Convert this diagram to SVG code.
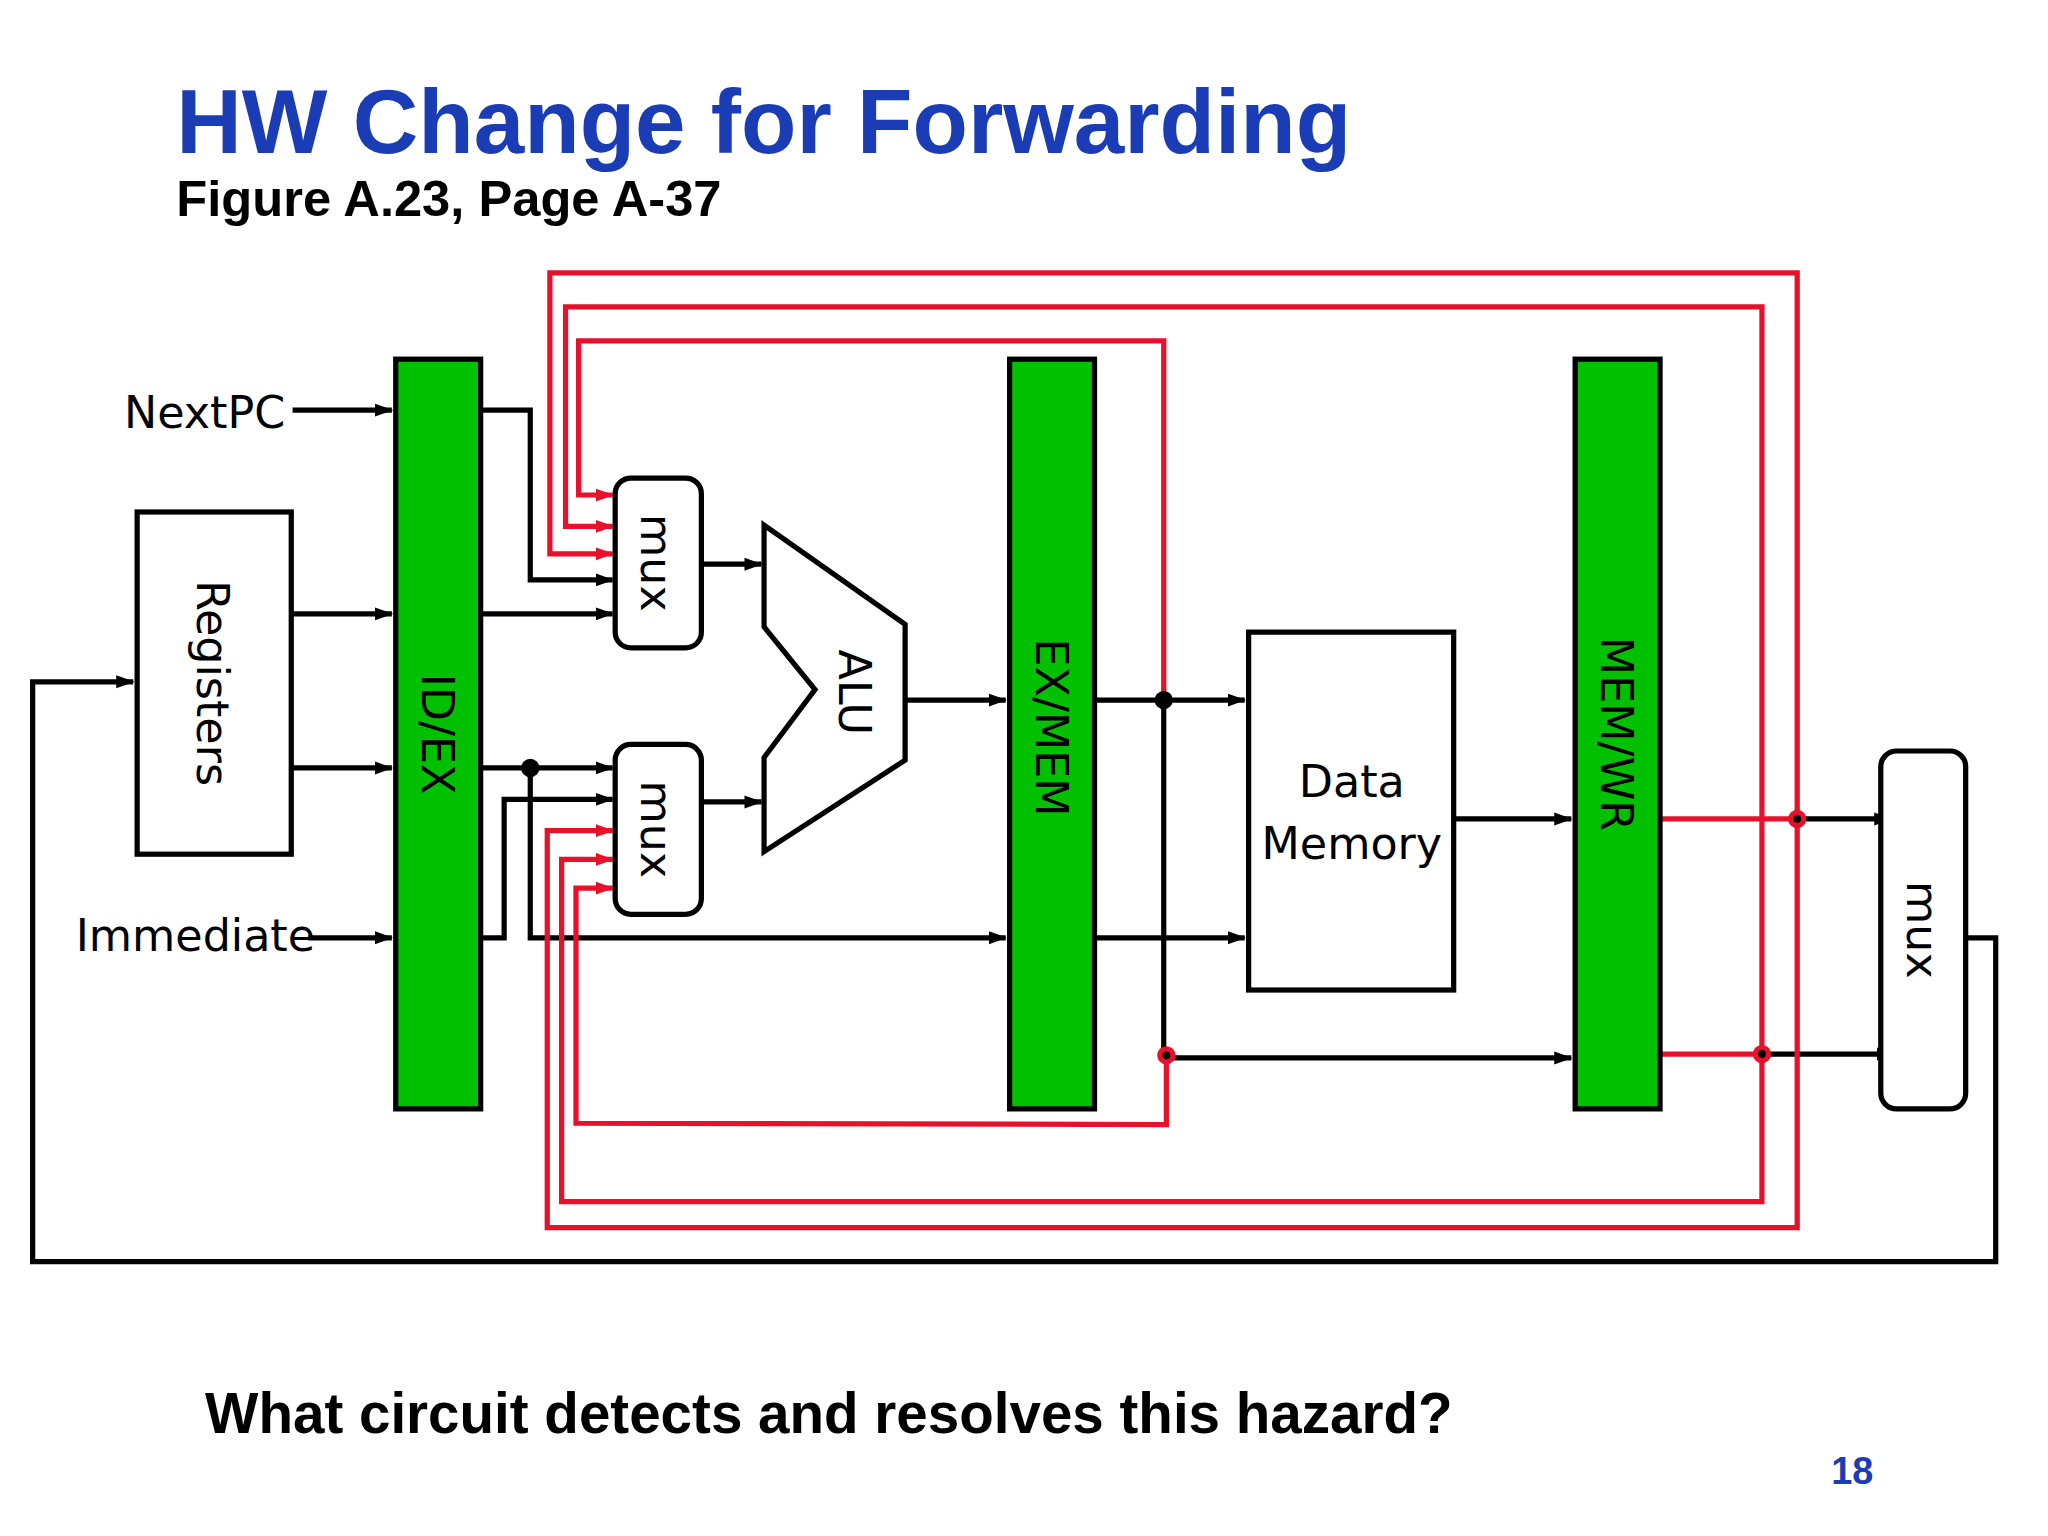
<svg xmlns="http://www.w3.org/2000/svg" width="2048" height="1536" viewBox="0 0 2048 1536">
<defs>
<marker id="ab" markerWidth="14" markerHeight="12" refX="13" refY="6" orient="auto" markerUnits="userSpaceOnUse"><path d="M0,1 L14,6 L0,11 z" fill="#000"/></marker>
<marker id="ar" markerWidth="14" markerHeight="12" refX="13" refY="6" orient="auto" markerUnits="userSpaceOnUse"><path d="M0,1 L14,6 L0,11 z" fill="#e8102a"/></marker>
<style>
.b{fill:none;stroke:#000;stroke-width:4}
.r{fill:none;stroke:#e8102a;stroke-width:4}
.bar{fill:#00c000;stroke:#000;stroke-width:4}
.box{fill:#fff;stroke:#000;stroke-width:4}
.hw{font-family:"DejaVu Sans",sans-serif;font-size:34px;fill:#000}
.hb{font-family:"Liberation Sans",Arial,sans-serif;font-weight:bold}
</style>
</defs>
<rect width="2048" height="1536" fill="#fff"/>
<g transform="scale(1.3061)">
<text class="hb" x="135" y="117" font-size="69.5" fill="#1a3cb4">HW Change for Forwarding</text>
<text class="hb" x="135" y="165" font-size="38.8" fill="#000">Figure A.23, Page A-37</text>
<g id="connectors">
<path class="b" d="M224,314H300" marker-end="url(#ab)"/>
<path class="b" d="M224,470H300" marker-end="url(#ab)"/>
<path class="b" d="M224,588H300" marker-end="url(#ab)"/>
<path class="b" d="M236,718H300" marker-end="url(#ab)"/>
<path class="b" d="M368,314H406V444H469" marker-end="url(#ab)"/>
<path class="b" d="M368,470H469" marker-end="url(#ab)"/>
<path class="b" d="M368,588H469" marker-end="url(#ab)"/>
<path class="b" d="M406,588V718H770" marker-end="url(#ab)"/>
<path class="b" d="M368,718H386V612H469" marker-end="url(#ab)"/>
<path class="b" d="M537,432H583" marker-end="url(#ab)"/>
<path class="b" d="M537,614H583" marker-end="url(#ab)"/>
<path class="b" d="M693,536H770" marker-end="url(#ab)"/>
<path class="b" d="M838,536H953" marker-end="url(#ab)"/>
<path class="b" d="M891,536V810H1203" marker-end="url(#ab)"/>
<path class="b" d="M838,718H953" marker-end="url(#ab)"/>
<path class="b" d="M1113,627H1203" marker-end="url(#ab)"/>
<path class="b" d="M1376,627H1448" marker-end="url(#ab)"/>
<path class="b" d="M1349,807H1450" marker-end="url(#ab)"/>
<path class="b" d="M1505,718H1528V966H25V522H102" marker-end="url(#ab)"/>
<path class="r" d="M1271,627H1376"/>
<path class="r" d="M1271,807H1349"/>
<path class="r" d="M1376,627V209H421V424H469" marker-end="url(#ar)"/>
<path class="r" d="M1376,627V940H419V636H469" marker-end="url(#ar)"/>
<path class="r" d="M1349,807V235H433V403H469" marker-end="url(#ar)"/>
<path class="r" d="M1349,807V920H430V658H469" marker-end="url(#ar)"/>
<path class="r" d="M891,536V261H443V379H469" marker-end="url(#ar)"/>
<path class="r" d="M893,808V861L441,860V680H469" marker-end="url(#ar)"/>
<circle cx="406" cy="588" r="7" fill="#000"/>
<circle cx="891" cy="536" r="7" fill="#000"/>
<circle cx="893" cy="808" r="7" fill="#e8102a"/><circle cx="893" cy="808" r="3" fill="#000"/>
<circle cx="1376" cy="627" r="7" fill="#e8102a"/><circle cx="1376" cy="627" r="3" fill="#000"/>
<circle cx="1349" cy="807" r="7" fill="#e8102a"/><circle cx="1349" cy="807" r="3" fill="#000"/>
</g>
<g id="registers"><rect class="box" x="105" y="392" width="118" height="262"/><text class="hw" transform="translate(151,523) rotate(90)" text-anchor="middle" font-size="36">Registers</text></g>
<g id="idex"><rect class="bar" x="303" y="275" width="65" height="574"/><text class="hw" transform="translate(323,562) rotate(90)" text-anchor="middle" font-size="36">ID/EX</text></g>
<g id="exmem"><rect class="bar" x="773" y="275" width="65" height="574"/><text class="hw" transform="translate(793,557) rotate(90)" text-anchor="middle" font-size="36">EX/MEM</text></g>
<g id="memwr"><rect class="bar" x="1206" y="275" width="65" height="574"/><text class="hw" transform="translate(1226,562) rotate(90)" text-anchor="middle" font-size="36">MEM/WR</text></g>
<g id="mux1"><rect class="box" x="471" y="366" width="66" height="130" rx="12"/><text class="hw" transform="translate(491,431) rotate(90)" text-anchor="middle">mux</text></g>
<g id="mux2"><rect class="box" x="471" y="570" width="66" height="130" rx="12"/><text class="hw" transform="translate(491,635) rotate(90)" text-anchor="middle">mux</text></g>
<g id="alu"><path class="box" d="M585,402L693,478V582L585,652V580L624,528L585,480Z"/><text class="hw" transform="translate(642,530) rotate(90)" text-anchor="middle">ALU</text></g>
<g id="datamem"><rect class="box" x="956" y="484" width="157" height="274"/><text class="hw" x="1035" y="610" text-anchor="middle" font-size="37">Data</text><text class="hw" x="1035" y="658" text-anchor="middle" font-size="37">Memory</text></g>
<g id="mux3"><rect class="box" x="1440" y="575" width="65" height="274" rx="12"/><text class="hw" transform="translate(1460,712) rotate(90)" text-anchor="middle">mux</text></g>
<text class="hw" x="95" y="328">NextPC</text>
<text class="hw" x="58" y="728" font-size="32">Immediate</text>
<text class="hb" x="157" y="1097" font-size="43.3" fill="#000">What circuit detects and resolves this hazard?</text>
<text class="hb" x="1402" y="1136" font-size="29" fill="#1a3cb4">18</text>
</g>
</svg>
